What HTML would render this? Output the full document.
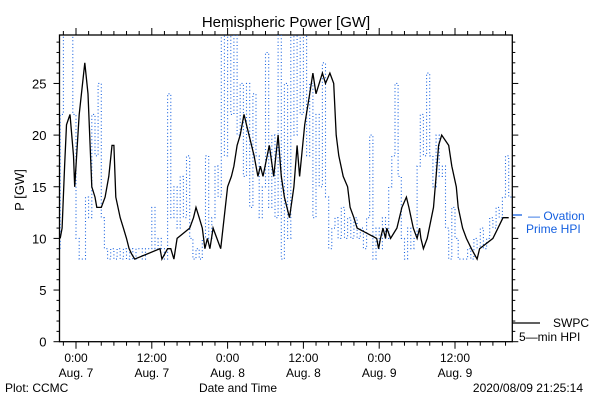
<!DOCTYPE html>
<html><head><meta charset="utf-8"><style>
body{margin:0;background:#fff;}
svg{display:block;font-family:"Liberation Sans",sans-serif;}
</style></head><body>
<svg id="chart" width="600" height="400">
<rect width="600" height="400" fill="#fff"/>
<text x="286" y="27" font-size="15" text-anchor="middle">Hemispheric Power [GW]</text>
<text transform="translate(24,190) rotate(-90)" font-size="13" text-anchor="middle">P [GW]</text>
<text x="238" y="392" font-size="12" text-anchor="middle">Date and Time</text>
<text x="5" y="392" font-size="12">Plot: CCMC</text>
<text x="583" y="392" font-size="12" text-anchor="end">2020/08/09 21:25:14</text>
<g>
<line x1="513" y1="215" x2="522" y2="215" stroke="#1560e0" stroke-width="1.3"/>
<text x="528" y="220" font-size="12" fill="#1560e0">— Ovation</text>
<text x="526" y="233" font-size="12" fill="#1560e0">Prime HPI</text>
</g>
<g>
<line x1="512" y1="323" x2="540" y2="323" stroke="#000" stroke-width="1.3"/>
<text x="553" y="327" font-size="12">SWPC</text>
<text x="519" y="341" font-size="12">5—min HPI</text>
</g>
<defs><clipPath id="pc"><rect x="60" y="35" width="452" height="307"/></clipPath></defs>
<g id="axes"></g>
<g id="series" clip-path="url(#pc)"></g>
</svg>
<script>
const yTicks=[0,5,10,15,20,25];
const xTickHours=[0,12,24,36,48,60];
const xTickTimes=["0:00","12:00","0:00","12:00","0:00","12:00"];
const xTickDates=["Aug. 7","Aug. 7","Aug. 8","Aug. 8","Aug. 9","Aug. 9"];
const swpcHours=[-2.5,-2.2,-1.8,-1.5,-0.95,-0.4,-0.2,0.5,1.4,1.9,2.5,3.0,3.3,4.0,4.6,5.2,5.7,6.0,6.3,7.0,7.5,8.0,8.4,8.8,9.3,13.3,13.6,14.5,15.0,15.5,16.0,18.0,18.6,19.0,19.5,20.0,20.4,20.8,21.2,21.7,22.3,22.9,24.0,24.6,25.0,25.5,26.0,26.6,27.0,28.2,28.8,29.2,29.6,30.6,31.3,32.0,32.5,33.0,33.8,34.5,35.0,35.4,36.2,37.0,37.5,38.0,38.5,39.0,39.5,40.2,40.8,41.2,41.6,42.3,43.0,43.4,44.0,44.5,47.6,47.9,48.2,48.6,49.0,49.2,49.8,50.8,51.6,52.3,52.7,53.4,54.0,54.4,54.6,55.0,55.6,56.6,57.0,57.4,57.9,59.0,59.5,60.2,60.5,61.2,61.8,62.6,63.5,63.9,66.0,66.8,67.6,68.0,68.5,69.5];
const swpcValues=[10,11,17,21,22,18,15,22,27,24,15,14,13,13,14,16,19,19,14,12,11,10,9,8.5,8,9,8,9,9,8,10,11,12,13,12,11,9,10,9,11,10,9,15,16,17,19,20,22,21,18,16,17,16,19,16,20,16,14,12,15,19,16,21,24,26,24,25,26,25,26,25,20,18,16,15,13,12,11,10,9,10,11,10,11,10,11,13,14,13,11,10,11,10,9,10,13,16,19,20,19,17,15,13,11,10,9,8,9,10,11,12,12,12];
const hpiStart=-2.5, hpiStep=0.5;
const hpiValues=[9,22,30,30,30,22,10,8,8,14,12,22,18,25,12,9,8,9,8,9,8,9,8,9,8,9,9,8,9,9,13,9,10,9,8,24,12,15,11,16,12,18,10,8,9,8,10,18,10,12,17,14,30,18,30,22,30,20,25,16,25,13,24,18,12,15,28,13,20,12,30,8,25,10,30,20,30,22,30,18,25,12,22,15,27,14,9,11,12,10,13,10,12,10,12,10,11,9,12,20,8,11,9,12,10,15,18,25,16,10,8,11,9,10,17,22,18,26,18,15,20,16,17,11,8,13,10,8,8,8,9,8,10,9,11,9,10,12,11,13,12,14,18,14];

const L=59.5,R=512.3,T=35,B=341.7;
const X=h=>76+h*(75.8/12);
const Y=v=>B-v*10.33;
const NS="http://www.w3.org/2000/svg";
function mk(tag,attrs,parent){const e=document.createElementNS(NS,tag);for(const k in attrs)e.setAttribute(k,attrs[k]);parent.appendChild(e);return e;}
const axes=document.getElementById('axes'),series=document.getElementById('series');
const frame=mk('rect',{x:L,y:T,width:R-L,height:B-T,fill:'none',stroke:'#000','stroke-width':1.3},axes);


for(let v=0;v<=29;v++){const y=Y(v);const len=v%5===0?6:3;
 mk('line',{x1:L-len,y1:y,x2:L,y2:y,stroke:'#000'},axes);
 mk('line',{x1:R,y1:y,x2:R+len,y2:y,stroke:'#000'},axes);}
yTicks.forEach(v=>{const t=mk('text',{x:L-13,y:Y(v)+5,'font-size':13,'text-anchor':'end'},axes);t.textContent=v;
 
 });
for(let h=-2;h<=68;h+=2){const x=X(h);const len=h%12===0?7:4;
 mk('line',{x1:x,y1:B,x2:x,y2:B+len,stroke:'#000'},axes);
 mk('line',{x1:x,y1:T,x2:x,y2:T-len,stroke:'#000'},axes);}
xTickHours.forEach((h,i)=>{const x=X(h);
 const a=mk('text',{x:x,y:362,'font-size':12,'text-anchor':'middle'},axes);a.textContent=xTickTimes[i];
 
 
 const b=mk('text',{x:x,y:377,'font-size':12,'text-anchor':'middle'},axes);b.textContent=xTickDates[i];
 
 });
let d='';hpiValues.forEach((v,i)=>{const x=X(hpiStart+i*hpiStep),y=Y(v);d+=(i?'V'+y.toFixed(1)+'H'+x.toFixed(1):'M'+x.toFixed(1)+','+y.toFixed(1));});
const p1=mk('path',{d:d,fill:'none',stroke:'#1560e0','stroke-width':1.1,'stroke-dasharray':'1,2.4'},series);


let d2='';swpcHours.forEach((h,i)=>{const x=X(h),y=Y(swpcValues[i]);d2+=(i?'L':'M')+x.toFixed(1)+','+y.toFixed(1);});
const p2=mk('path',{d:d2,fill:'none',stroke:'#000','stroke-width':1.3},series);


</script>
</body></html>
